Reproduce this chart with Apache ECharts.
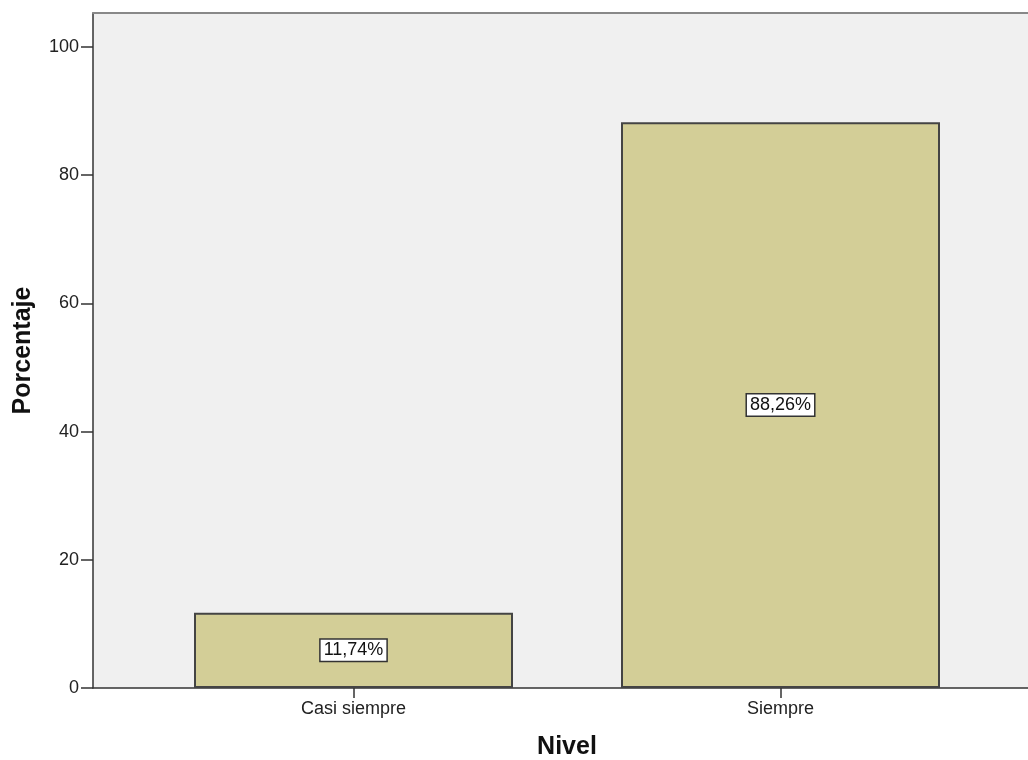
<!DOCTYPE html>
<html><head><meta charset="utf-8">
<script src="https://cdn.jsdelivr.net/npm/echarts@6/dist/echarts.min.js"></script>
<style>html,body{margin:0;padding:0;background:#fff}#c{width:1028px;height:760px}</style>
</head><body><div id="c"></div>
<script>
const categories = ['Casi siempre', 'Siempre'];
const percentages = [11.74, 88.26];
const yTicks = [0, 20, 40, 60, 80, 100];

const font = '"Liberation Sans", Arial, sans-serif';
const chart = echarts.init(document.getElementById('c'));
chart.setOption({
  animation: false,
  backgroundColor: '#ffffff',
  grid: [
    {left: 93, right: 0, top: 13, bottom: 72, show: true, backgroundColor: '#f0f0f0', borderWidth: 0,
     containLabel: false, outerBoundsMode: 'none'},
    {left: 140, right: 34, top: 13, bottom: 72, containLabel: false, outerBoundsMode: 'none'}
  ],
  xAxis: [
    {gridIndex: 0, type: 'category', data: categories, position: 'bottom',
     axisLine: {lineStyle: {color: '#333', width: 1.5}}, axisTick: {show: false}, axisLabel: {show: false}},
    {gridIndex: 0, type: 'category', data: categories, position: 'top',
     axisLine: {lineStyle: {color: '#888', width: 2}}, axisTick: {show: false}, axisLabel: {show: false}},
    {gridIndex: 1, type: 'category', data: categories, position: 'bottom',
     axisLine: {show: false},
     axisTick: {show: true, alignWithLabel: true, length: 10, lineStyle: {color: '#333', width: 1.5}},
     axisLabel: {color: '#222', fontSize: 18, fontFamily: font, margin: 12},
     name: 'Nivel', nameLocation: 'middle', nameGap: 47,
     nameTextStyle: {fontSize: 25, fontWeight: 'bold', color: '#111', fontFamily: font}}
  ],
  yAxis: [
    {gridIndex: 0, type: 'value', min: 0, max: 105.3, interval: 20,
     axisLine: {show: true, lineStyle: {color: '#333', width: 1.5}},
     axisTick: {show: true, length: 12, lineStyle: {color: '#333', width: 1.5}},
     axisLabel: {color: '#222', fontSize: 18, fontFamily: font, margin: 14,
       showMaxLabel: false, formatter: v => yTicks.includes(v) ? String(v) : ''},
     splitLine: {show: false},
     name: 'Porcentaje', nameLocation: 'middle', nameGap: 57, nameRotate: 90,
     nameTextStyle: {fontSize: 25, fontWeight: 'bold', color: '#111', fontFamily: font}},
    {gridIndex: 1, type: 'value', min: 0, max: 105.3, show: false, splitLine: {show: false}}
  ],
  series: [{
    type: 'bar', xAxisIndex: 2, yAxisIndex: 1,
    data: percentages, barWidth: 319,
    itemStyle: {color: '#d3ce97', borderColor: '#444', borderWidth: 2},
    label: {show: true, position: 'inside',
      formatter: p => p.value.toFixed(2).replace('.', ',') + '%',
      color: '#111', fontSize: 18, fontFamily: font,
      backgroundColor: '#ffffff', borderColor: '#333', borderWidth: 1.5, padding: [2, 3, 1, 3]}
  }]
});
</script></body></html>
